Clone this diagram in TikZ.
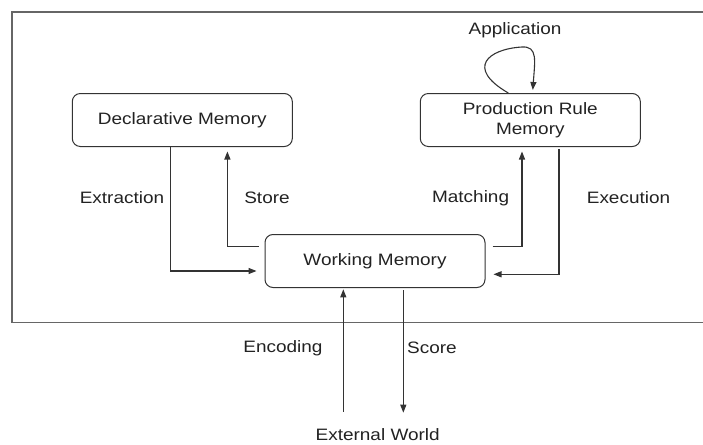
\documentclass[tikz,border=0pt]{standalone}
\usepackage{fontspec}
\setmainfont[FakeStretch=1.15]{Liberation Sans}
\usetikzlibrary{calc,arrows.meta}
\definecolor{linegray}{HTML}{333333}
\definecolor{framegray}{HTML}{666666}
\definecolor{textgray}{HTML}{222222}
\tikzset{
    memory/.style={draw=linegray,line width=1pt,rounded corners=8pt,minimum width=220pt,minimum height=53pt,align=center,text=textgray},
    flow/.style={draw=linegray,line width=1.1pt,-{Triangle[length=8pt,width=6pt]}},
    lbl/.style={text=textgray},
  }
\begin{document}
\begin{tikzpicture}[x=1pt,y=-1pt,font=\fontsize{16.5}{20}\selectfont]
  \useasboundingbox (0,0) rectangle (703,444);
  %CADRE
  \draw[framegray,line width=1.4pt] (706,12) -- (12,12) -- (12,322.7) -- (706,322.7);
  %MEMOIRES
  \node[memory] (DM) at (182.3,120) {Declarative Memory};
  \node[memory] (PRM) at (530.3,120) {Production Rule\\Memory};
  \node[memory] (WM) at (375,261) {Working Memory};
  \node[lbl] (EW) at (377.7,435) {External World};
  \coordinate (in) at (343.3,411.7);
  \coordinate (out) at (403.3,412.7);
  %FLECHES
  \draw[flow] ([xshift=-11.9pt]DM.south) |- ([xshift=-8pt,yshift=-10pt]WM.west);
  \draw[flow] ([xshift=-6pt,yshift=14.3pt]WM.west) -| ([xshift=45.1pt,yshift=-4.5pt]DM.south);
  \draw[flow] ([xshift=7pt,yshift=14.3pt]WM.east) -| ([xshift=-8.3pt,yshift=-4.5pt]PRM.south);
  \draw[flow] ([xshift=28.7pt,yshift=-2pt]PRM.south) |- ([xshift=8pt,yshift=-13.3pt]WM.east);
  \draw[flow] (in) -- ([xshift=-31.7pt,yshift=-1.3pt]WM.south);
  \draw[flow] ([xshift=28.3pt,yshift=-2.3pt]WM.south) -- (out);
  %BOUCLE
  \draw[flow] ([xshift=-22pt]PRM.north) .. controls +(-43,-25) and +(-34,2) .. (522,47)
              .. controls +(16,-1) and +(2,-29) .. ([xshift=2.5pt,yshift=3pt]PRM.north);
  %ETIQUETTES
  \node[lbl] (app) at (515,30) {Application};
  \node[lbl] (extr) at (122,198) {Extraction};
  \node[lbl] (store) at (267,198) {Store};
  \node[lbl] (match) at (470.6,198) {Matching};
  \node[lbl] (exec) at (628.5,198) {Execution};
  \node[lbl] (enc) at (283,348.3) {Encoding};
  \node[lbl] (score) at (432,348) {Score};
\end{tikzpicture}
\end{document}
